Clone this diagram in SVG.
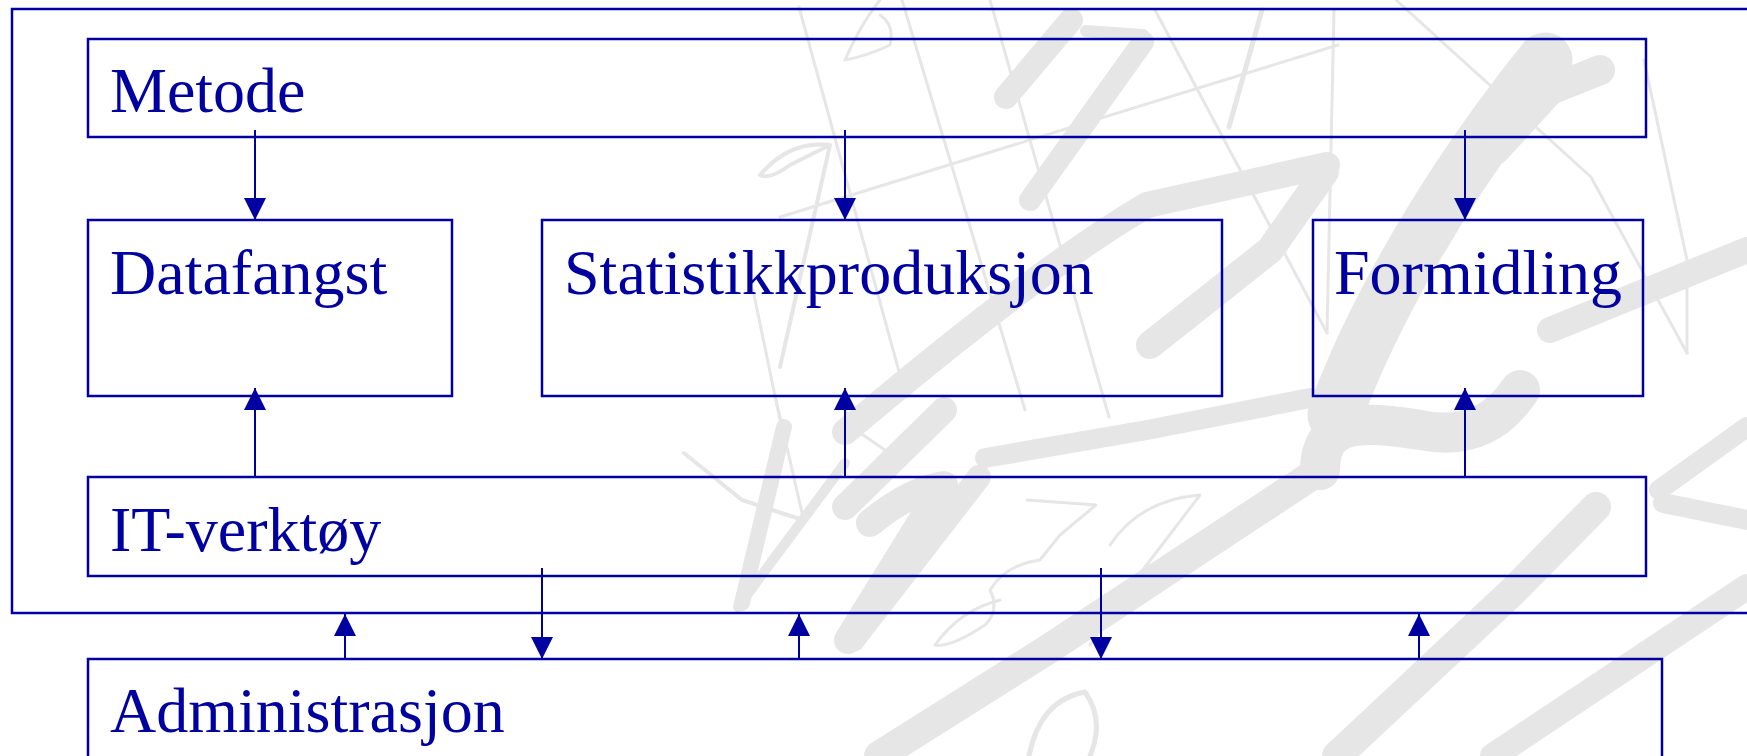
<svg xmlns="http://www.w3.org/2000/svg" width="1747" height="756" viewBox="0 0 1747 756">
<style>
.bg{fill:none;stroke:#e6e6e6;stroke-linecap:round;stroke-linejoin:round}
.box{fill:none;stroke:#0000a0;stroke-width:2.5}
.lbl{font-family:"Liberation Serif","Times New Roman",serif;font-size:64px;fill:#0000a0}
.cn{fill:none;stroke:#0000a0;stroke-width:2;marker-end:url(#ah)}
</style>
<defs>
<marker id="ah" markerUnits="userSpaceOnUse" markerWidth="22" markerHeight="22" refX="22" refY="11" orient="auto">
<path d="M0,0 L22,11 L0,22 Z" fill="#0000a0"/>
</marker>
</defs>
<rect width="1747" height="756" fill="#ffffff"/>
<g id="watermark">
<path class="bg" stroke-width="24" d="M1006,97 L1071,20"/>
<path class="bg" stroke-width="12" d="M1086,31 L1143,35"/>
<path class="bg" stroke-width="22" d="M1143,42 L1030,200"/>
<path class="bg" stroke-width="26" d="M845,432 C930,360 1050,262 1147,205 L1327,165"/>
<path class="bg" stroke-width="28" d="M1325,172 L1270,250 L1150,345"/>
<path class="bg" stroke-width="55" d="M1335,415 C1370,320 1440,190 1545,60"/>
<path class="bg" stroke-width="30" d="M1495,150 L1550,90 L1600,70"/>
<path class="bg" stroke-width="20" d="M985,458 L1147,430 L1310,398"/>
<path class="bg" stroke-width="26" d="M845,507 L944,410"/>
<path class="bg" stroke-width="28" d="M870,523 Q910,490 944,485 L848,640"/>
<path class="bg" stroke-width="24" d="M979,477 L853,640"/>
<path class="bg" stroke-width="30" d="M879,756 L1047,650 L1320,470"/>
<path class="bg" stroke-width="40" d="M1320,470 C1320,420 1360,420 1420,430 C1470,440 1500,420 1520,390"/>
<path class="bg" stroke-width="30" d="M1337,756 L1511,593 L1596,507"/>
<path class="bg" stroke-width="26" d="M1493,756 L1747,587"/>
<path class="bg" stroke-width="20" d="M1659,490 L1747,427"/>
<path class="bg" stroke-width="20" d="M1663,503 L1747,520"/>
<path class="bg" stroke-width="26" d="M1550,330 L1747,250"/>
<path class="bg" stroke-width="16" d="M742,603 L784,427"/>
<path class="bg" stroke-width="10" d="M738,607 L845,463"/>
<path class="bg" stroke-width="3" d="M799,7 L906,397"/>
<path class="bg" stroke-width="3" d="M902,0 L1025,410"/>
<path class="bg" stroke-width="3" d="M990,0 L1109,417"/>
<path class="bg" stroke-width="3" d="M780,217 L1338,45"/>
<path class="bg" stroke-width="3" d="M1396,0 L1591,177 L1687,353"/>
<path class="bg" stroke-width="3" d="M1155,10 L1327,333"/>
<path class="bg" stroke-width="3" d="M1334,10 L1327,333"/>
<path class="bg" stroke-width="5" d="M1262,10 L1229,127"/>
<path class="bg" stroke-width="3" d="M1644,60 L1687,260 L1687,353"/>
<path class="bg" stroke-width="4" d="M684,453 L742,500 L803,520"/>
<path class="bg" stroke-width="3" d="M776,400 L803,517"/>
<path class="bg" stroke-width="3" d="M753,290 L780,420"/>
<path class="bg" stroke-width="3" d="M845,410 L856,430 L895,457"/>
<path class="bg" stroke-width="3" d="M880,0 Q860,25 845,60 Q870,55 890,45 Q895,25 880,15"/>
<path class="bg" stroke-width="4" d="M830,145 Q790,140 760,175 Q770,180 790,165 Q820,150 830,145 L780,367"/>
<path class="bg" stroke-width="3" d="M1027,500 L1096,505 L1060,535 L1040,560 Q1005,565 990,590 Q1000,610 985,625 Q950,648 935,645 Q960,610 1000,600"/>
<path class="bg" stroke-width="3" d="M1110,545 Q1140,500 1200,495 L1120,600 L1090,645"/>
<path class="bg" stroke-width="5" d="M1029,756 Q1040,700 1085,692 Q1105,720 1090,756"/>
</g>
<g id="outer"><rect class="box" x="12" y="9" width="1760" height="604"/></g>
<g id="metode"><rect class="box" x="88" y="39" width="1558" height="98"/><text class="lbl" x="110" y="112">Metode</text></g>
<g id="datafangst"><rect class="box" x="88" y="220" width="364" height="176"/><text class="lbl" x="110" y="294">Datafangst</text></g>
<g id="statistikkproduksjon"><rect class="box" x="542" y="220" width="680" height="176"/><text class="lbl" x="564" y="294">Statistikkproduksjon</text></g>
<g id="formidling"><rect class="box" x="1313" y="220" width="330" height="176"/><text class="lbl" x="1334" y="294">Formidling</text></g>
<g id="it-verktoy"><rect class="box" x="88" y="477" width="1558" height="99"/><text class="lbl" x="110" y="551">IT-verktøy</text></g>
<g id="administrasjon"><rect class="box" x="88" y="659" width="1574" height="120"/><text class="lbl" x="110" y="732">Administrasjon</text></g>
<g id="connectors">
<path class="cn" d="M255,130 L255,220"/>
<path class="cn" d="M845,130 L845,220"/>
<path class="cn" d="M1465,130 L1465,220"/>
<path class="cn" d="M255,477 L255,388"/>
<path class="cn" d="M845,477 L845,388"/>
<path class="cn" d="M1465,477 L1465,388"/>
<path class="cn" d="M345,659 L345,614"/>
<path class="cn" d="M799,659 L799,614"/>
<path class="cn" d="M1419,659 L1419,614"/>
<path class="cn" d="M542,568 L542,659"/>
<path class="cn" d="M1101,568 L1101,659"/>
</g>
</svg>
